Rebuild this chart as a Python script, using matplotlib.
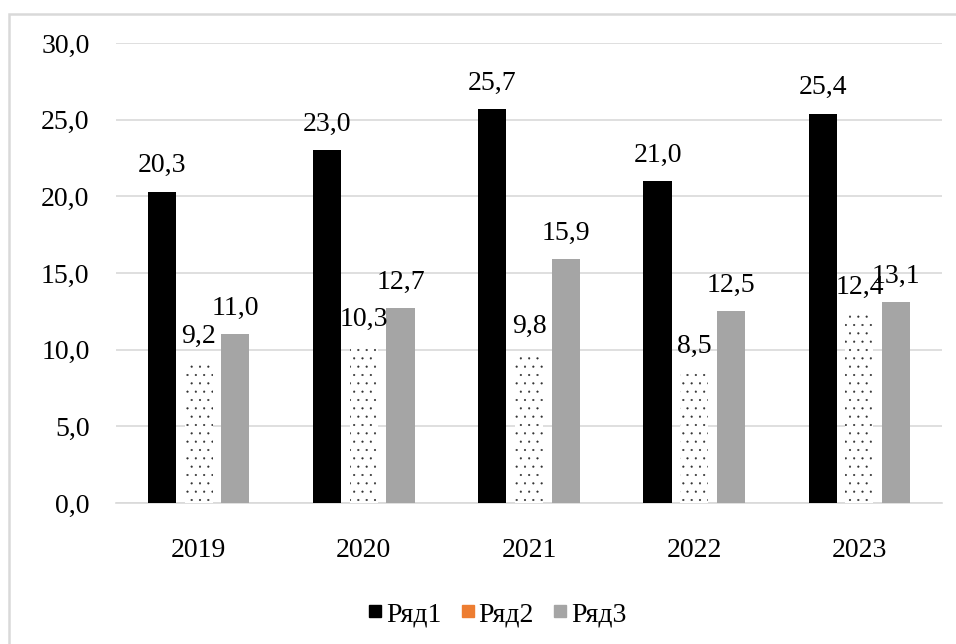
import numpy as np
import matplotlib
matplotlib.use('Agg')
import matplotlib.pyplot as plt
from matplotlib.lines import Line2D
from matplotlib.patches import Rectangle

# values per year
years = ['2019', '2020', '2021', '2022', '2023']
row1 = [20.3, 23.0, 25.7, 21.0, 25.4]
row2 = [9.2, 10.3, 9.8, 8.5, 12.4]
row3 = [11.0, 12.7, 15.9, 12.5, 13.1]
series_names = ['Ряд1', 'Ряд2', 'Ряд3']
yticks = [0, 5, 10, 15, 20, 25, 30]

plt.rcParams['font.family'] = ['Liberation Serif', 'DejaVu Serif']
plt.rcParams['hatch.linewidth'] = 0.3
fs = 20

c1 = 'black'
c2 = '#ed7d31'
c3 = '#a5a5a5'
grid_c = '#d9d9d9'

fig = plt.figure(figsize=(9.56, 6.44), dpi=100)
ax = fig.add_axes([0.1213, 0.2189, 0.8641, 0.7143])

# outer frame of the chart area (runs off right / bottom edge)
fig.patches.append(Rectangle((9/956, -0.1), 1.2, (644-14)/644 + 0.1,
                             transform=fig.transFigure, fill=False,
                             edgecolor=grid_c, lw=1.8))

x = np.arange(len(years))
w = 0.17
off = 0.222

b1 = ax.bar(x - off, row1, w, color=c1, zorder=3)
# dotted bars: fine dark hatch on white, no outline
b2 = ax.bar(x, row2, w, facecolor='white', edgecolor='#303030', hatch='..', linewidth=0, zorder=3)
b3 = ax.bar(x + off, row3, w, color=c3, zorder=3)

for bars, vals in [(b1, row1), (b2, row2), (b3, row3)]:
    for r, v in zip(bars, vals):
        ax.annotate(f'{v:.1f}'.replace('.', ','),
                    (r.get_x() + r.get_width()/2, v),
                    xytext=(0, 14), textcoords='offset points',
                    ha='center', va='baseline', fontsize=fs, zorder=4)

ax.set_xlim(-0.5, len(years) - 0.5)
ax.set_ylim(0, 30)
ax.set_yticks(yticks)
ax.set_yticklabels([f'{t:.1f}'.replace('.', ',') for t in yticks], fontsize=fs)
ax.set_xticks(x)
ax.set_xticklabels(years, fontsize=fs)
ax.tick_params(axis='both', length=0)
ax.tick_params(axis='y', pad=19)
ax.tick_params(axis='x', pad=25)

ax.grid(axis='y', color=grid_c, lw=1.2, zorder=0)
for s in ['left', 'right', 'top']:
    ax.spines[s].set_visible(False)
ax.spines['bottom'].set_color(grid_c)
ax.spines['bottom'].set_linewidth(1.2)

handles = [Line2D([], [], marker='s', ls='', color=c, markersize=8) for c in [c1, c2, c3]]
fig.legend(handles, series_names, loc='center', bbox_to_anchor=(0.518, 0.046),
           ncol=3, frameon=False, fontsize=fs, handletextpad=0.0,
           columnspacing=0.55, handlelength=0.8)

fig.savefig('out.png', dpi=100)
